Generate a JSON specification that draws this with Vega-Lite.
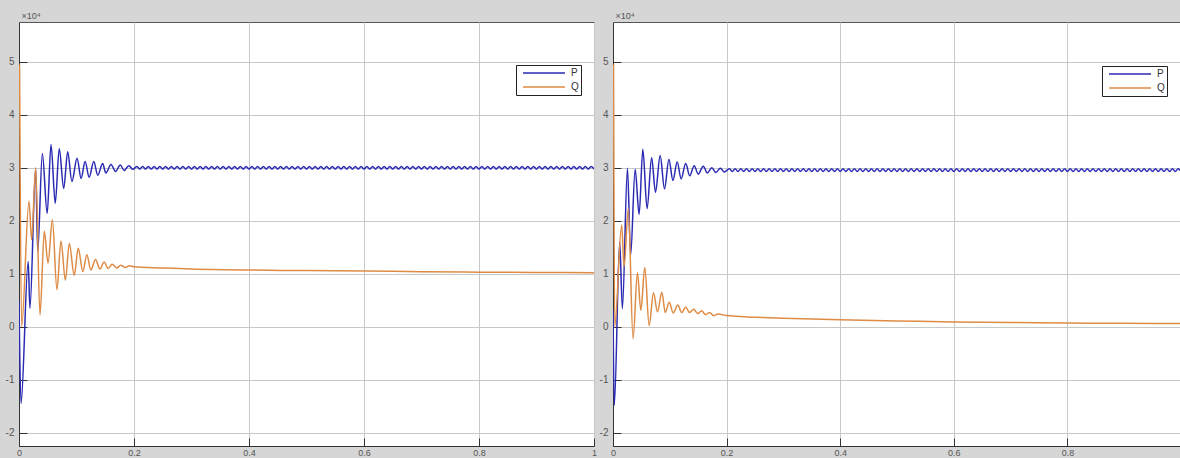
{
  "$schema": "https://vega.github.io/schema/vega-lite/v6.json",
  "background": "#d6d6d6",
  "padding": {"left": 4, "top": 10, "right": 0, "bottom": 0},
  "autosize": {"type": "pad"},
  "spacing": 19,
  "bounds": "flush",
  "config": {
    "view": {"stroke": "#555555", "strokeWidth": 1, "fill": "#ffffff"},
    "axis": {
      "domainColor": "#333333",
      "tickColor": "#333333",
      "gridColor": "#c8c8c8",
      "gridOpacity": 1,
      "labelColor": "#555555",
      "labelFont": "Liberation Sans",
      "labelFontSize": 10,
      "tickSize": -8,
      "titleFont": "Liberation Sans",
      "titleFontWeight": "normal",
      "titleColor": "#555555"
    },
    "line": {"strokeWidth": 1.5, "interpolate": "monotone"}
  },
  "resolve": {"legend": {"color": "independent"}},
  "datasets": {
    "left": [
      {"s":"P","t":0,"v":0.5},{"s":"P","t":0.0035,"v":-1.45},{"s":"P","t":0.016,"v":1.23},{"s":"P","t":0.019,"v":0.35},
      {"s":"P","t":0.029,"v":2.99},{"s":"P","t":0.0325,"v":1.42},{"s":"P","t":0.0406,"v":3.27},{"s":"P","t":0.049,"v":2.14},
      {"s":"P","t":0.0557,"v":3.44},{"s":"P","t":0.063,"v":2.33},{"s":"P","t":0.07,"v":3.36},{"s":"P","t":0.0777,"v":2.61},
      {"s":"P","t":0.0847,"v":3.3},{"s":"P","t":0.092,"v":2.74},{"s":"P","t":0.101,"v":3.18},{"s":"P","t":0.108,"v":2.8},
      {"s":"P","t":0.115,"v":3.12},{"s":"P","t":0.122,"v":2.82},{"s":"P","t":0.13,"v":3.12},{"s":"P","t":0.137,"v":2.86},
      {"s":"P","t":0.1455,"v":3.08},{"s":"P","t":0.151,"v":2.9},{"s":"P","t":0.16,"v":3.06},{"s":"P","t":0.168,"v":2.93},
      {"s":"P","t":0.176,"v":3.05},{"s":"P","t":0.183,"v":2.95},{"s":"P","t":0.191,"v":3.04},{"s":"P","t":0.198,"v":2.97},
      {"s":"P","t":0.205,"v":3.025},{"s":"P","t":0.21,"v":2.975},{"s":"P","t":0.215,"v":3.025},{"s":"P","t":0.22,"v":2.975},
      {"s":"P","t":0.225,"v":3.025},{"s":"P","t":0.23,"v":2.975},{"s":"P","t":0.235,"v":3.025},{"s":"P","t":0.24,"v":2.975},
      {"s":"P","t":0.245,"v":3.025},{"s":"P","t":0.25,"v":2.975},{"s":"P","t":0.255,"v":3.025},{"s":"P","t":0.26,"v":2.975},
      {"s":"P","t":0.265,"v":3.025},{"s":"P","t":0.27,"v":2.975},{"s":"P","t":0.275,"v":3.025},{"s":"P","t":0.28,"v":2.975},
      {"s":"P","t":0.285,"v":3.025},{"s":"P","t":0.29,"v":2.975},{"s":"P","t":0.295,"v":3.025},{"s":"P","t":0.3,"v":2.975},
      {"s":"P","t":0.305,"v":3.025},{"s":"P","t":0.31,"v":2.975},{"s":"P","t":0.315,"v":3.025},{"s":"P","t":0.32,"v":2.975},
      {"s":"P","t":0.325,"v":3.025},{"s":"P","t":0.33,"v":2.975},{"s":"P","t":0.335,"v":3.025},{"s":"P","t":0.34,"v":2.975},
      {"s":"P","t":0.345,"v":3.025},{"s":"P","t":0.35,"v":2.975},{"s":"P","t":0.355,"v":3.025},{"s":"P","t":0.36,"v":2.975},
      {"s":"P","t":0.365,"v":3.025},{"s":"P","t":0.37,"v":2.975},{"s":"P","t":0.375,"v":3.025},{"s":"P","t":0.38,"v":2.975},
      {"s":"P","t":0.385,"v":3.025},{"s":"P","t":0.39,"v":2.975},{"s":"P","t":0.395,"v":3.025},{"s":"P","t":0.4,"v":2.975},
      {"s":"P","t":0.405,"v":3.025},{"s":"P","t":0.41,"v":2.975},{"s":"P","t":0.415,"v":3.025},{"s":"P","t":0.42,"v":2.975},
      {"s":"P","t":0.425,"v":3.025},{"s":"P","t":0.43,"v":2.975},{"s":"P","t":0.435,"v":3.025},{"s":"P","t":0.44,"v":2.975},
      {"s":"P","t":0.445,"v":3.025},{"s":"P","t":0.45,"v":2.975},{"s":"P","t":0.455,"v":3.025},{"s":"P","t":0.46,"v":2.975},
      {"s":"P","t":0.465,"v":3.025},{"s":"P","t":0.47,"v":2.975},{"s":"P","t":0.475,"v":3.025},{"s":"P","t":0.48,"v":2.975},
      {"s":"P","t":0.485,"v":3.025},{"s":"P","t":0.49,"v":2.975},{"s":"P","t":0.495,"v":3.025},{"s":"P","t":0.5,"v":2.975},
      {"s":"P","t":0.505,"v":3.025},{"s":"P","t":0.51,"v":2.975},{"s":"P","t":0.515,"v":3.025},{"s":"P","t":0.52,"v":2.975},
      {"s":"P","t":0.525,"v":3.025},{"s":"P","t":0.53,"v":2.975},{"s":"P","t":0.535,"v":3.025},{"s":"P","t":0.54,"v":2.975},
      {"s":"P","t":0.545,"v":3.025},{"s":"P","t":0.55,"v":2.975},{"s":"P","t":0.555,"v":3.025},{"s":"P","t":0.56,"v":2.975},
      {"s":"P","t":0.565,"v":3.025},{"s":"P","t":0.57,"v":2.975},{"s":"P","t":0.575,"v":3.025},{"s":"P","t":0.58,"v":2.975},
      {"s":"P","t":0.585,"v":3.025},{"s":"P","t":0.59,"v":2.975},{"s":"P","t":0.595,"v":3.025},{"s":"P","t":0.6,"v":2.975},
      {"s":"P","t":0.605,"v":3.025},{"s":"P","t":0.61,"v":2.975},{"s":"P","t":0.615,"v":3.025},{"s":"P","t":0.62,"v":2.975},
      {"s":"P","t":0.625,"v":3.025},{"s":"P","t":0.63,"v":2.975},{"s":"P","t":0.635,"v":3.025},{"s":"P","t":0.64,"v":2.975},
      {"s":"P","t":0.645,"v":3.025},{"s":"P","t":0.65,"v":2.975},{"s":"P","t":0.655,"v":3.025},{"s":"P","t":0.66,"v":2.975},
      {"s":"P","t":0.665,"v":3.025},{"s":"P","t":0.67,"v":2.975},{"s":"P","t":0.675,"v":3.025},{"s":"P","t":0.68,"v":2.975},
      {"s":"P","t":0.685,"v":3.025},{"s":"P","t":0.69,"v":2.975},{"s":"P","t":0.695,"v":3.025},{"s":"P","t":0.7,"v":2.975},
      {"s":"P","t":0.705,"v":3.025},{"s":"P","t":0.71,"v":2.975},{"s":"P","t":0.715,"v":3.025},{"s":"P","t":0.72,"v":2.975},
      {"s":"P","t":0.725,"v":3.025},{"s":"P","t":0.73,"v":2.975},{"s":"P","t":0.735,"v":3.025},{"s":"P","t":0.74,"v":2.975},
      {"s":"P","t":0.745,"v":3.025},{"s":"P","t":0.75,"v":2.975},{"s":"P","t":0.755,"v":3.025},{"s":"P","t":0.76,"v":2.975},
      {"s":"P","t":0.765,"v":3.025},{"s":"P","t":0.77,"v":2.975},{"s":"P","t":0.775,"v":3.025},{"s":"P","t":0.78,"v":2.975},
      {"s":"P","t":0.785,"v":3.025},{"s":"P","t":0.79,"v":2.975},{"s":"P","t":0.795,"v":3.025},{"s":"P","t":0.8,"v":2.975},
      {"s":"P","t":0.805,"v":3.025},{"s":"P","t":0.81,"v":2.975},{"s":"P","t":0.815,"v":3.025},{"s":"P","t":0.82,"v":2.975},
      {"s":"P","t":0.825,"v":3.025},{"s":"P","t":0.83,"v":2.975},{"s":"P","t":0.835,"v":3.025},{"s":"P","t":0.84,"v":2.975},
      {"s":"P","t":0.845,"v":3.025},{"s":"P","t":0.85,"v":2.975},{"s":"P","t":0.855,"v":3.025},{"s":"P","t":0.86,"v":2.975},
      {"s":"P","t":0.865,"v":3.025},{"s":"P","t":0.87,"v":2.975},{"s":"P","t":0.875,"v":3.025},{"s":"P","t":0.88,"v":2.975},
      {"s":"P","t":0.885,"v":3.025},{"s":"P","t":0.89,"v":2.975},{"s":"P","t":0.895,"v":3.025},{"s":"P","t":0.9,"v":2.975},
      {"s":"P","t":0.905,"v":3.025},{"s":"P","t":0.91,"v":2.975},{"s":"P","t":0.915,"v":3.025},{"s":"P","t":0.92,"v":2.975},
      {"s":"P","t":0.925,"v":3.025},{"s":"P","t":0.93,"v":2.975},{"s":"P","t":0.935,"v":3.025},{"s":"P","t":0.94,"v":2.975},
      {"s":"P","t":0.945,"v":3.025},{"s":"P","t":0.95,"v":2.975},{"s":"P","t":0.955,"v":3.025},{"s":"P","t":0.96,"v":2.975},
      {"s":"P","t":0.965,"v":3.025},{"s":"P","t":0.97,"v":2.975},{"s":"P","t":0.975,"v":3.025},{"s":"P","t":0.98,"v":2.975},
      {"s":"P","t":0.985,"v":3.025},{"s":"P","t":0.99,"v":2.975},{"s":"P","t":0.995,"v":3.025},{"s":"P","t":1.0,"v":2.975},
      {"s":"Q","t":0.001,"v":4.95},{"s":"Q","t":0.0045,"v":0.0},{"s":"Q","t":0.0174,"v":2.37},{"s":"Q","t":0.022,"v":1.64},
      {"s":"Q","t":0.029,"v":3.0},{"s":"Q","t":0.0365,"v":0.22},{"s":"Q","t":0.044,"v":1.8},{"s":"Q","t":0.0505,"v":1.2},
      {"s":"Q","t":0.058,"v":2.02},{"s":"Q","t":0.066,"v":0.7},{"s":"Q","t":0.073,"v":1.62},{"s":"Q","t":0.0806,"v":0.88},
      {"s":"Q","t":0.0875,"v":1.57},{"s":"Q","t":0.096,"v":0.97},{"s":"Q","t":0.103,"v":1.48},{"s":"Q","t":0.111,"v":1.04},
      {"s":"Q","t":0.118,"v":1.36},{"s":"Q","t":0.125,"v":1.07},{"s":"Q","t":0.133,"v":1.27},{"s":"Q","t":0.141,"v":1.09},
      {"s":"Q","t":0.148,"v":1.22},{"s":"Q","t":0.155,"v":1.1},{"s":"Q","t":0.162,"v":1.18},{"s":"Q","t":0.17,"v":1.11},
      {"s":"Q","t":0.177,"v":1.16},{"s":"Q","t":0.185,"v":1.12},{"s":"Q","t":0.192,"v":1.15},{"s":"Q","t":0.2,"v":1.13},
      {"s":"Q","t":0.25,"v":1.11},{"s":"Q","t":0.3,"v":1.09},{"s":"Q","t":0.4,"v":1.07},{"s":"Q","t":0.5,"v":1.06},
      {"s":"Q","t":0.6,"v":1.05},{"s":"Q","t":0.7,"v":1.04},{"s":"Q","t":0.8,"v":1.03},{"s":"Q","t":0.9,"v":1.025},
      {"s":"Q","t":1.0,"v":1.02}
    ],
    "right": [
      {"s":"P","t":0,"v":0.3},{"s":"P","t":0.0023,"v":-1.48},{"s":"P","t":0.0118,"v":1.6},{"s":"P","t":0.0165,"v":0.34},
      {"s":"P","t":0.0255,"v":2.99},{"s":"P","t":0.031,"v":1.35},{"s":"P","t":0.039,"v":2.97},{"s":"P","t":0.046,"v":2.12},
      {"s":"P","t":0.0525,"v":3.35},{"s":"P","t":0.06,"v":2.23},{"s":"P","t":0.068,"v":3.19},{"s":"P","t":0.0748,"v":2.54},
      {"s":"P","t":0.083,"v":3.23},{"s":"P","t":0.0907,"v":2.6},{"s":"P","t":0.0984,"v":3.16},{"s":"P","t":0.1055,"v":2.76},
      {"s":"P","t":0.113,"v":3.11},{"s":"P","t":0.12,"v":2.79},{"s":"P","t":0.128,"v":3.08},{"s":"P","t":0.135,"v":2.85},
      {"s":"P","t":0.143,"v":3.04},{"s":"P","t":0.15,"v":2.88},{"s":"P","t":0.159,"v":3.03},{"s":"P","t":0.166,"v":2.9},
      {"s":"P","t":0.174,"v":3.0},{"s":"P","t":0.181,"v":2.91},{"s":"P","t":0.189,"v":2.99},{"s":"P","t":0.196,"v":2.92},
      {"s":"P","t":0.205,"v":2.98},{"s":"P","t":0.21,"v":2.93},{"s":"P","t":0.215,"v":2.98},{"s":"P","t":0.22,"v":2.93},
      {"s":"P","t":0.225,"v":2.98},{"s":"P","t":0.23,"v":2.93},{"s":"P","t":0.235,"v":2.98},{"s":"P","t":0.24,"v":2.93},
      {"s":"P","t":0.245,"v":2.98},{"s":"P","t":0.25,"v":2.93},{"s":"P","t":0.255,"v":2.98},{"s":"P","t":0.26,"v":2.93},
      {"s":"P","t":0.265,"v":2.98},{"s":"P","t":0.27,"v":2.93},{"s":"P","t":0.275,"v":2.98},{"s":"P","t":0.28,"v":2.93},
      {"s":"P","t":0.285,"v":2.98},{"s":"P","t":0.29,"v":2.93},{"s":"P","t":0.295,"v":2.98},{"s":"P","t":0.3,"v":2.93},
      {"s":"P","t":0.305,"v":2.98},{"s":"P","t":0.31,"v":2.93},{"s":"P","t":0.315,"v":2.98},{"s":"P","t":0.32,"v":2.93},
      {"s":"P","t":0.325,"v":2.98},{"s":"P","t":0.33,"v":2.93},{"s":"P","t":0.335,"v":2.98},{"s":"P","t":0.34,"v":2.93},
      {"s":"P","t":0.345,"v":2.98},{"s":"P","t":0.35,"v":2.93},{"s":"P","t":0.355,"v":2.98},{"s":"P","t":0.36,"v":2.93},
      {"s":"P","t":0.365,"v":2.98},{"s":"P","t":0.37,"v":2.93},{"s":"P","t":0.375,"v":2.98},{"s":"P","t":0.38,"v":2.93},
      {"s":"P","t":0.385,"v":2.98},{"s":"P","t":0.39,"v":2.93},{"s":"P","t":0.395,"v":2.98},{"s":"P","t":0.4,"v":2.93},
      {"s":"P","t":0.405,"v":2.98},{"s":"P","t":0.41,"v":2.93},{"s":"P","t":0.415,"v":2.98},{"s":"P","t":0.42,"v":2.93},
      {"s":"P","t":0.425,"v":2.98},{"s":"P","t":0.43,"v":2.93},{"s":"P","t":0.435,"v":2.98},{"s":"P","t":0.44,"v":2.93},
      {"s":"P","t":0.445,"v":2.98},{"s":"P","t":0.45,"v":2.93},{"s":"P","t":0.455,"v":2.98},{"s":"P","t":0.46,"v":2.93},
      {"s":"P","t":0.465,"v":2.98},{"s":"P","t":0.47,"v":2.93},{"s":"P","t":0.475,"v":2.98},{"s":"P","t":0.48,"v":2.93},
      {"s":"P","t":0.485,"v":2.98},{"s":"P","t":0.49,"v":2.93},{"s":"P","t":0.495,"v":2.98},{"s":"P","t":0.5,"v":2.93},
      {"s":"P","t":0.505,"v":2.98},{"s":"P","t":0.51,"v":2.93},{"s":"P","t":0.515,"v":2.98},{"s":"P","t":0.52,"v":2.93},
      {"s":"P","t":0.525,"v":2.98},{"s":"P","t":0.53,"v":2.93},{"s":"P","t":0.535,"v":2.98},{"s":"P","t":0.54,"v":2.93},
      {"s":"P","t":0.545,"v":2.98},{"s":"P","t":0.55,"v":2.93},{"s":"P","t":0.555,"v":2.98},{"s":"P","t":0.56,"v":2.93},
      {"s":"P","t":0.565,"v":2.98},{"s":"P","t":0.57,"v":2.93},{"s":"P","t":0.575,"v":2.98},{"s":"P","t":0.58,"v":2.93},
      {"s":"P","t":0.585,"v":2.98},{"s":"P","t":0.59,"v":2.93},{"s":"P","t":0.595,"v":2.98},{"s":"P","t":0.6,"v":2.93},
      {"s":"P","t":0.605,"v":2.98},{"s":"P","t":0.61,"v":2.93},{"s":"P","t":0.615,"v":2.98},{"s":"P","t":0.62,"v":2.93},
      {"s":"P","t":0.625,"v":2.98},{"s":"P","t":0.63,"v":2.93},{"s":"P","t":0.635,"v":2.98},{"s":"P","t":0.64,"v":2.93},
      {"s":"P","t":0.645,"v":2.98},{"s":"P","t":0.65,"v":2.93},{"s":"P","t":0.655,"v":2.98},{"s":"P","t":0.66,"v":2.93},
      {"s":"P","t":0.665,"v":2.98},{"s":"P","t":0.67,"v":2.93},{"s":"P","t":0.675,"v":2.98},{"s":"P","t":0.68,"v":2.93},
      {"s":"P","t":0.685,"v":2.98},{"s":"P","t":0.69,"v":2.93},{"s":"P","t":0.695,"v":2.98},{"s":"P","t":0.7,"v":2.93},
      {"s":"P","t":0.705,"v":2.98},{"s":"P","t":0.71,"v":2.93},{"s":"P","t":0.715,"v":2.98},{"s":"P","t":0.72,"v":2.93},
      {"s":"P","t":0.725,"v":2.98},{"s":"P","t":0.73,"v":2.93},{"s":"P","t":0.735,"v":2.98},{"s":"P","t":0.74,"v":2.93},
      {"s":"P","t":0.745,"v":2.98},{"s":"P","t":0.75,"v":2.93},{"s":"P","t":0.755,"v":2.98},{"s":"P","t":0.76,"v":2.93},
      {"s":"P","t":0.765,"v":2.98},{"s":"P","t":0.77,"v":2.93},{"s":"P","t":0.775,"v":2.98},{"s":"P","t":0.78,"v":2.93},
      {"s":"P","t":0.785,"v":2.98},{"s":"P","t":0.79,"v":2.93},{"s":"P","t":0.795,"v":2.98},{"s":"P","t":0.8,"v":2.93},
      {"s":"P","t":0.805,"v":2.98},{"s":"P","t":0.81,"v":2.93},{"s":"P","t":0.815,"v":2.98},{"s":"P","t":0.82,"v":2.93},
      {"s":"P","t":0.825,"v":2.98},{"s":"P","t":0.83,"v":2.93},{"s":"P","t":0.835,"v":2.98},{"s":"P","t":0.84,"v":2.93},
      {"s":"P","t":0.845,"v":2.98},{"s":"P","t":0.85,"v":2.93},{"s":"P","t":0.855,"v":2.98},{"s":"P","t":0.86,"v":2.93},
      {"s":"P","t":0.865,"v":2.98},{"s":"P","t":0.87,"v":2.93},{"s":"P","t":0.875,"v":2.98},{"s":"P","t":0.88,"v":2.93},
      {"s":"P","t":0.885,"v":2.98},{"s":"P","t":0.89,"v":2.93},{"s":"P","t":0.895,"v":2.98},{"s":"P","t":0.9,"v":2.93},
      {"s":"P","t":0.905,"v":2.98},{"s":"P","t":0.91,"v":2.93},{"s":"P","t":0.915,"v":2.98},{"s":"P","t":0.92,"v":2.93},
      {"s":"P","t":0.925,"v":2.98},{"s":"P","t":0.93,"v":2.93},{"s":"P","t":0.935,"v":2.98},{"s":"P","t":0.94,"v":2.93},
      {"s":"P","t":0.945,"v":2.98},{"s":"P","t":0.95,"v":2.93},{"s":"P","t":0.955,"v":2.98},{"s":"P","t":0.96,"v":2.93},
      {"s":"P","t":0.965,"v":2.98},{"s":"P","t":0.97,"v":2.93},{"s":"P","t":0.975,"v":2.98},{"s":"P","t":0.98,"v":2.93},
      {"s":"P","t":0.985,"v":2.98},{"s":"P","t":0.99,"v":2.93},{"s":"P","t":0.995,"v":2.98},{"s":"P","t":1.0,"v":2.93},
      {"s":"Q","t":0.001,"v":4.95},{"s":"Q","t":0.003,"v":0.0},{"s":"Q","t":0.0153,"v":1.92},{"s":"Q","t":0.0194,"v":1.13},
      {"s":"Q","t":0.027,"v":2.23},{"s":"Q","t":0.0353,"v":-0.23},{"s":"Q","t":0.043,"v":1.02},{"s":"Q","t":0.049,"v":0.31},
      {"s":"Q","t":0.056,"v":1.12},{"s":"Q","t":0.0636,"v":0.02},{"s":"Q","t":0.0713,"v":0.64},{"s":"Q","t":0.0783,"v":0.28},
      {"s":"Q","t":0.086,"v":0.65},{"s":"Q","t":0.092,"v":0.27},{"s":"Q","t":0.099,"v":0.46},{"s":"Q","t":0.106,"v":0.26},
      {"s":"Q","t":0.114,"v":0.41},{"s":"Q","t":0.121,"v":0.27},{"s":"Q","t":0.128,"v":0.37},{"s":"Q","t":0.135,"v":0.27},
      {"s":"Q","t":0.142,"v":0.33},{"s":"Q","t":0.149,"v":0.25},{"s":"Q","t":0.156,"v":0.3},{"s":"Q","t":0.163,"v":0.23},
      {"s":"Q","t":0.17,"v":0.27},{"s":"Q","t":0.177,"v":0.21},{"s":"Q","t":0.185,"v":0.24},{"s":"Q","t":0.2,"v":0.21},
      {"s":"Q","t":0.25,"v":0.18},{"s":"Q","t":0.3,"v":0.16},{"s":"Q","t":0.4,"v":0.13},{"s":"Q","t":0.5,"v":0.11},
      {"s":"Q","t":0.6,"v":0.09},{"s":"Q","t":0.7,"v":0.08},{"s":"Q","t":0.8,"v":0.07},{"s":"Q","t":0.9,"v":0.065},
      {"s":"Q","t":1.0,"v":0.06}
    ]
  },
  "hconcat": [
    {
      "width": 575,
      "height": 424,
      "data": {"name": "left"},
      "mark": {"type": "line", "clip": true},
      "encoding": {
        "x": {"field": "t", "type": "quantitative",
          "scale": {"domain": [0, 1], "nice": false, "zero": false},
          "axis": {"title": null, "values": [0, 0.2, 0.4, 0.6, 0.8, 1], "format": "~g", "labelPadding": 10, "labelBaseline": "top", "labelFlush": false, "labelFontSize": 9}},
        "y": {"field": "v", "type": "quantitative",
          "scale": {"domain": [-2.25, 5.75], "nice": false, "zero": false},
          "axis": {"title": "×10⁴", "titleAngle": 0, "titleAlign": "left", "titleBaseline": "alphabetic", "titleX": 2, "titleY": -4, "titleFontSize": 9,
            "values": [-2, -1, 0, 1, 2, 3, 4, 5], "labelExpr": "'' + datum.value", "labelPadding": 13}},
        "color": {"field": "s", "type": "nominal",
          "scale": {"domain": ["P", "Q"], "range": ["#2a2ab4", "#de8b45"]},
          "legend": {"orient": "none", "legendX": 497, "legendY": 43, "title": null, "symbolType": "stroke", "symbolSize": 1764, "symbolStrokeWidth": 1.5,
            "clipHeight": 12, "rowPadding": 2, "padding": 2, "symbolOffset": 4, "labelOffset": 5, "labelFontSize": 10, "labelFont": "Liberation Sans",
            "labelColor": "#333333", "strokeColor": "#222222", "fillColor": "#ffffff", "labelExpr": "datum.label + '    '"}}
      }
    },
    {
      "width": 568,
      "height": 424,
      "data": {"name": "right"},
      "mark": {"type": "line", "clip": true},
      "encoding": {
        "x": {"field": "t", "type": "quantitative",
          "scale": {"domain": [0, 1], "nice": false, "zero": false},
          "axis": {"title": null, "values": [0, 0.2, 0.4, 0.6, 0.8], "format": "~g", "labelPadding": 10, "labelBaseline": "top", "labelFlush": false, "labelFontSize": 9}},
        "y": {"field": "v", "type": "quantitative",
          "scale": {"domain": [-2.25, 5.75], "nice": false, "zero": false},
          "axis": {"title": "×10⁴", "titleAngle": 0, "titleAlign": "left", "titleBaseline": "alphabetic", "titleX": 2, "titleY": -4, "titleFontSize": 9,
            "values": [-2, -1, 0, 1, 2, 3, 4, 5], "labelExpr": "'' + datum.value", "labelPadding": 13}},
        "color": {"field": "s", "type": "nominal",
          "scale": {"domain": ["P", "Q"], "range": ["#2a2ab4", "#de8b45"]},
          "legend": {"orient": "none", "legendX": 489, "legendY": 44, "title": null, "symbolType": "stroke", "symbolSize": 1764, "symbolStrokeWidth": 1.5,
            "clipHeight": 12, "rowPadding": 2, "padding": 2, "symbolOffset": 4, "labelOffset": 5, "labelFontSize": 10, "labelFont": "Liberation Sans",
            "labelColor": "#333333", "strokeColor": "#222222", "fillColor": "#ffffff", "labelExpr": "datum.label + '    '"}}
      }
    }
  ]
}
